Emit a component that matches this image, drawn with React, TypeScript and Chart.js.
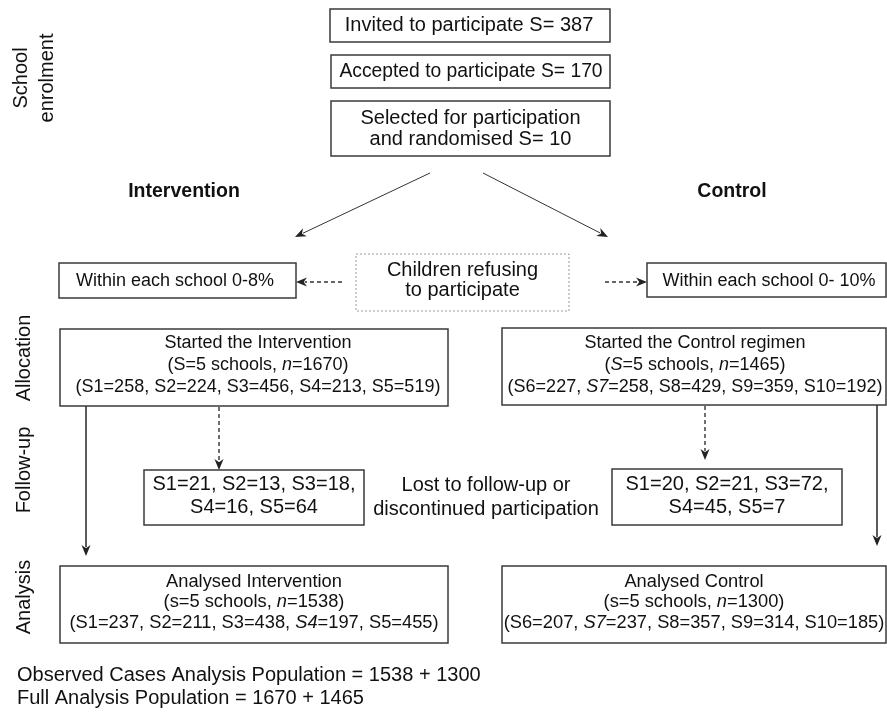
import React, { useEffect, useRef } from 'react';
import { Chart, registerables } from 'chart.js';

Chart.register(...registerables);

// ---------------- data ----------------
const enrolmentSchools = [387, 170, 10];
const interventionSchoolIds = ['S1', 'S2', 'S3', 'S4', 'S5'];
const controlSchoolIds = ['S6', 'S7', 'S8', 'S9', 'S10'];
const lostSchoolIds = ['S1', 'S2', 'S3', 'S4', 'S5'];
const interventionStarted = [258, 224, 456, 213, 519];
const controlStarted = [227, 258, 429, 359, 192];
const interventionLost = [21, 13, 18, 16, 64];
const controlLost = [20, 21, 72, 45, 7];
const interventionAnalysed = [237, 211, 438, 197, 455];
const controlAnalysed = [207, 237, 357, 314, 185];
const startedTotals = [1670, 1465];
const analysedTotals = [1538, 1300];
const schoolsPerArm = [5, 5];
const refusalRanges = ['0-8%', '0- 10%'];
const armLabels = ['Intervention', 'Control'];
const phaseLabels = [['School', 'enrolment'], ['Allocation'], ['Follow-up'], ['Analysis']];

// ---------------- helpers ----------------
const FONT = '"Liberation Sans", Arial, Helvetica, sans-serif';

// "_x_" marks italic segments
function schoolList(ids: string[], vals: number[], italic: number[] = []) {
  return ids.map((id, i) => (italic.includes(i) ? `_${id}_` : id) + '=' + vals[i]);
}

const intStartList = schoolList(interventionSchoolIds, interventionStarted);
const ctlStartList = schoolList(controlSchoolIds, controlStarted, [1]);
const intLostList = schoolList(lostSchoolIds, interventionLost);
const ctlLostList = schoolList(lostSchoolIds, controlLost);
const intAnaList = schoolList(interventionSchoolIds, interventionAnalysed, [3]);
const ctlAnaList = schoolList(controlSchoolIds, controlAnalysed, [1]);

type Box = {
  x0: number; y0: number; x1: number; y1: number;
  lines: string[]; size: number; gap: number; dotted?: boolean; noBorder?: boolean;
  cx?: number; cy?: number;
};

const BOXES: Box[] = [
  { x0: 330, y0: 9, x1: 610, y1: 42, lines: [`Invited to participate S= ${enrolmentSchools[0]}`], size: 20, gap: 22, cx: 469 },
  { x0: 331, y0: 55, x1: 610, y1: 88, lines: [`Accepted to participate S= ${enrolmentSchools[1]}`], size: 19.3, gap: 22, cx: 471 },
  { x0: 331, y0: 101, x1: 610, y1: 156, lines: ['Selected for participation', `and randomised S= ${enrolmentSchools[2]}`], size: 20, gap: 21 },
  { x0: 59, y0: 263, x1: 296, y1: 298, lines: [`Within each school ${refusalRanges[0]}`], size: 18, gap: 20, cx: 175, cy: 281 },
  { x0: 356, y0: 254, x1: 569, y1: 311, lines: ['Children refusing', 'to participate'], size: 20, gap: 20, dotted: true, cy: 280 },
  { x0: 647, y0: 263, x1: 886, y1: 297, lines: [`Within each school ${refusalRanges[1]}`], size: 18, gap: 20, cx: 769, cy: 281 },
  {
    x0: 60, y0: 329, x1: 448, y1: 406, size: 18, gap: 22, cy: 365, cx: 258,
    lines: ['Started the Intervention', `(S=${schoolsPerArm[0]} schools, _n_=${startedTotals[0]})`, `(${intStartList.join(', ')})`],
  },
  {
    x0: 502, y0: 328, x1: 886, y1: 405, size: 18, gap: 22, cy: 365, cx: 695,
    lines: ['Started the Control regimen', `(_S_=${schoolsPerArm[1]} schools, _n_=${startedTotals[1]})`, `(${ctlStartList.join(', ')})`],
  },
  {
    x0: 144, y0: 470, x1: 364, y1: 525, size: 20, gap: 23, cy: 496,
    lines: [intLostList.slice(0, 3).join(', ') + ',', intLostList.slice(3).join(', ')],
  },
  {
    x0: 0, y0: 0, x1: 0, y1: 0, size: 20, gap: 24, noBorder: true, cx: 486, cy: 497,
    lines: ['Lost to follow-up or', 'discontinued participation'],
  },
  {
    x0: 612, y0: 469, x1: 842, y1: 525, size: 20, gap: 23, cy: 496,
    lines: [ctlLostList.slice(0, 3).join(', ') + ',', ctlLostList.slice(3).join(', ')],
  },
  {
    x0: 60, y0: 566, x1: 448, y1: 643, size: 18.3, gap: 20.5, cy: 602,
    lines: ['Analysed Intervention', `(s=${schoolsPerArm[0]} schools, _n_=${analysedTotals[0]})`, `(${intAnaList.join(', ')})`],
  },
  {
    x0: 502, y0: 566, x1: 886, y1: 643, size: 18.3, gap: 20.5, cy: 602,
    lines: ['Analysed Control', `(s=${schoolsPerArm[1]} schools, _n_=${analysedTotals[1]})`, `(${ctlAnaList.join(', ')})`],
  },
];

type Arrow = { x0: number; y0: number; x1: number; y1: number; dashed?: boolean; w?: number };
const ARROWS: Arrow[] = [
  { x0: 430, y0: 173, x1: 295, y1: 237, w: 1 },
  { x0: 483, y0: 173, x1: 608, y1: 237, w: 1 },
  { x0: 342, y0: 282, x1: 296, y1: 282, dashed: true, w: 1.3 },
  { x0: 605, y0: 282, x1: 647, y1: 282, dashed: true, w: 1.3 },
  { x0: 86, y0: 406, x1: 86, y1: 556, w: 1.6 },
  { x0: 219, y0: 407, x1: 219, y1: 470, dashed: true, w: 1.4 },
  { x0: 705, y0: 406, x1: 705, y1: 460, dashed: true, w: 1.4 },
  { x0: 877, y0: 405, x1: 877, y1: 546, w: 1.6 },
];

const HEADINGS = [
  { x: 184, y: 192, text: armLabels[0] },
  { x: 732, y: 192, text: armLabels[1] },
];

const SIDE_LABELS = [
  { x: 34, y: 78, lines: phaseLabels[0] },
  { x: 24, y: 358, lines: phaseLabels[1] },
  { x: 24, y: 470, lines: phaseLabels[2] },
  { x: 24, y: 597, lines: phaseLabels[3] },
];

const FOOTER = [
  `Observed Cases Analysis Population = ${analysedTotals[0]} + ${analysedTotals[1]}`,
  `Full Analysis Population = ${startedTotals[0]} + ${startedTotals[1]}`,
];

function drawRich(ctx: CanvasRenderingContext2D, text: string, x: number, y: number, size: number, weight: string, align: 'center' | 'left') {
  const parts = text.split('_');
  const fonts = parts.map((_, i) => `${i % 2 ? 'italic ' : ''}${weight} ${size}px ${FONT}`);
  let total = 0;
  const widths = parts.map((p, i) => {
    ctx.font = fonts[i];
    const w = ctx.measureText(p).width;
    total += w;
    return w;
  });
  let cx = align === 'center' ? x - total / 2 : x;
  ctx.textAlign = 'left';
  ctx.textBaseline = 'middle';
  parts.forEach((p, i) => {
    ctx.font = fonts[i];
    ctx.fillText(p, cx, y);
    cx += widths[i];
  });
}

const flowPlugin = {
  id: 'flow',
  afterDraw(chart: any) {
    const ctx: CanvasRenderingContext2D = chart.ctx;
    const xs = chart.scales.x;
    const ys = chart.scales.y;
    const X = (v: number) => xs.getPixelForValue(v);
    const Y = (v: number) => ys.getPixelForValue(v);
    ctx.save();

    // boxes
    for (const b of BOXES) {
      if (!b.noBorder) {
        ctx.save();
        if (b.dotted) {
          ctx.strokeStyle = '#9a9a9a';
          ctx.lineWidth = 1;
          ctx.setLineDash([2, 2]);
        } else {
          ctx.strokeStyle = '#3a3a3a';
          ctx.lineWidth = 1.5;
        }
        ctx.strokeRect(X(b.x0), Y(b.y0), X(b.x1) - X(b.x0), Y(b.y1) - Y(b.y0));
        ctx.restore();
      }
      const cx = b.cx ?? (b.x0 + b.x1) / 2;
      const cy = b.cy ?? (b.y0 + b.y1) / 2;
      const n = b.lines.length;
      ctx.fillStyle = '#111';
      b.lines.forEach((l, i) => {
        const ly = cy + (i - (n - 1) / 2) * b.gap;
        drawRich(ctx, l, X(cx), Y(ly), b.size, 'normal', 'center');
      });
    }

    // arrows
    for (const a of ARROWS) {
      const x0 = X(a.x0), y0 = Y(a.y0), x1 = X(a.x1), y1 = Y(a.y1);
      const ang = Math.atan2(y1 - y0, x1 - x0);
      const hl = 11, hw = 4.5;
      ctx.save();
      ctx.strokeStyle = '#333';
      ctx.fillStyle = '#222';
      ctx.lineWidth = a.w ?? 1.2;
      if (a.dashed) ctx.setLineDash([4, 3]);
      ctx.beginPath();
      ctx.moveTo(x0, y0);
      ctx.lineTo(x1 - Math.cos(ang) * hl * 0.8, y1 - Math.sin(ang) * hl * 0.8);
      ctx.stroke();
      ctx.setLineDash([]);
      ctx.beginPath();
      ctx.moveTo(x1, y1);
      ctx.lineTo(x1 - Math.cos(ang) * hl - Math.sin(ang) * hw, y1 - Math.sin(ang) * hl + Math.cos(ang) * hw);
      ctx.lineTo(x1 - Math.cos(ang) * hl * 0.7, y1 - Math.sin(ang) * hl * 0.7);
      ctx.lineTo(x1 - Math.cos(ang) * hl + Math.sin(ang) * hw, y1 - Math.sin(ang) * hl - Math.cos(ang) * hw);
      ctx.closePath();
      ctx.fill();
      ctx.restore();
    }

    // arm headings
    ctx.fillStyle = '#111';
    for (const h of HEADINGS) drawRich(ctx, h.text, X(h.x), Y(h.y), 19.5, 'bold', 'center');

    // side phase labels (rotated)
    for (const s of SIDE_LABELS) {
      ctx.save();
      ctx.translate(X(s.x), Y(s.y));
      ctx.rotate(-Math.PI / 2);
      const n = s.lines.length;
      s.lines.forEach((l, i) => {
        drawRich(ctx, l, 0, (i - (n - 1) / 2) * 26, 20, 'normal', 'center');
      });
      ctx.restore();
    }

    // footer
    FOOTER.forEach((t, i) => drawRich(ctx, t, X(17), Y(675 + i * 23), 20, 'normal', 'left'));

    ctx.restore();
  },
};

export default function App() {
  const ref = useRef<HTMLCanvasElement | null>(null);
  useEffect(() => {
    document.body.style.margin = '0';
    if (!ref.current) return;
    const chart = new Chart(ref.current, {
      type: 'scatter',
      data: { datasets: [{ data: [], pointRadius: 0 }] },
      options: {
        animation: false,
        responsive: false,
        devicePixelRatio: 1,
        layout: { padding: 0 },
        plugins: { legend: { display: false }, tooltip: { enabled: false }, title: { display: false } },
        scales: {
          x: { type: 'linear', min: 0, max: 887, display: false },
          y: { type: 'linear', min: 0, max: 718, reverse: true, display: false },
        },
      },
      plugins: [flowPlugin],
    });
    return () => chart.destroy();
  }, []);
  return (
    <div style={{ width: 887, height: 718, background: '#fff' }}>
      <canvas ref={ref} width={887} height={718} />
    </div>
  );
}
